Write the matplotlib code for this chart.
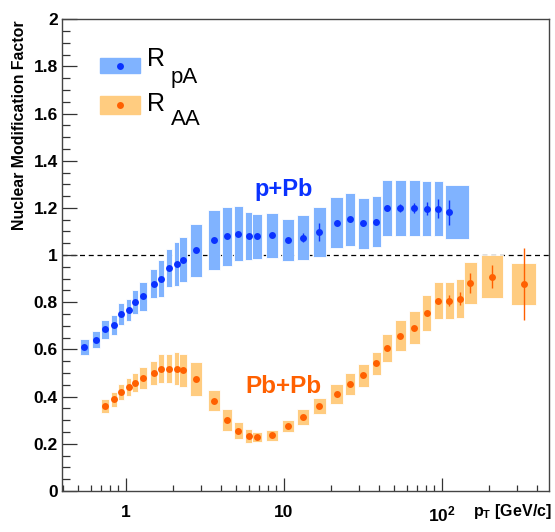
import numpy as np
import matplotlib.pyplot as plt

plt.rcParams['font.family'] = ['Liberation Sans', 'DejaVu Sans']
plt.rcParams['mathtext.fontset'] = 'custom'
plt.rcParams['mathtext.rm'] = 'Liberation Sans'
plt.rcParams['mathtext.bf'] = 'Liberation Sans:bold'

# p+Pb (RpA) data
rpa_pt = [0.547, 0.649, 0.74, 0.843, 0.938, 1.045, 1.14, 1.29, 1.50, 1.68, 1.89,
          2.10, 2.31, 2.80, 3.61, 4.38, 5.16, 6.0, 6.78, 8.43, 10.7, 13.2, 16.8,
          21.6, 26.3, 31.9, 38.6, 44.9, 54.7, 67.1, 80.4, 95.1, 111.7]
rpa_val = [0.611, 0.642, 0.685, 0.704, 0.750, 0.769, 0.800, 0.825, 0.878, 0.900,
           0.946, 0.963, 0.981, 1.020, 1.063, 1.080, 1.090, 1.080, 1.080, 1.084,
           1.063, 1.074, 1.098, 1.137, 1.151, 1.134, 1.142, 1.199, 1.199, 1.199,
           1.196, 1.196, 1.182]
rpa_stat = [0.005] * 21 + [0.02, 0.039, 0.01, 0.01, 0.01, 0.01, 0.012, 0.017,
                           0.02, 0.027, 0.04, 0.053]
rpa_sys = [0.034, 0.037, 0.040, 0.042, 0.045, 0.047, 0.050, 0.060, 0.061, 0.078,
           0.080, 0.094, 0.096, 0.113, 0.127, 0.125, 0.117, 0.102, 0.096, 0.096,
           0.089, 0.095, 0.105, 0.108, 0.112, 0.108, 0.108, 0.118, 0.118, 0.118,
           0.116, 0.117, 0.115]
rpa_last_bin = (105, 150)

# Pb+Pb (RAA) data
raa_pt = [0.74, 0.843, 0.938, 1.045, 1.14, 1.29, 1.50, 1.68, 1.89, 2.10, 2.31,
          2.80, 3.61, 4.38, 5.16, 6.0, 6.78, 8.43, 10.7, 13.2, 16.8, 21.6, 26.3,
          31.9, 38.6, 44.9, 54.7, 67.1, 80.4, 95.1, 111.7, 131, 152, 208, 330]
raa_val = [0.361, 0.388, 0.420, 0.440, 0.459, 0.478, 0.502, 0.519, 0.519, 0.519,
           0.511, 0.476, 0.383, 0.300, 0.256, 0.234, 0.229, 0.236, 0.277, 0.313,
           0.362, 0.411, 0.454, 0.490, 0.541, 0.607, 0.659, 0.693, 0.754, 0.807,
           0.807, 0.815, 0.882, 0.909, 0.878]
raa_stat = [0.005] * 29 + [0.01, 0.023, 0.028, 0.042, 0.047, 0.153]
raa_sys = [0.029, 0.032, 0.035, 0.037, 0.040, 0.046, 0.051, 0.061, 0.061, 0.069,
           0.071, 0.072, 0.044, 0.047, 0.035, 0.029, 0.022, 0.023, 0.025, 0.033,
           0.034, 0.042, 0.045, 0.049, 0.050, 0.058, 0.065, 0.071, 0.075, 0.077,
           0.079, 0.083, 0.088, 0.091, 0.088]

blue_box, blue_pt = '#80b3ff', '#0a32ff'
orange_box, orange_pt = '#ffcc80', '#ff6000'


def box_edges(pt, frac=0.4):
    lp = np.log10(pt)
    gaps = np.diff(lp)
    left = np.r_[gaps[0], gaps]
    right = np.r_[gaps, gaps[-1]]
    half = frac * (left + right) / 2
    return 10 ** (lp - half), 10 ** (lp + half)


fig = plt.figure(figsize=(5.55, 5.32), dpi=100)
ax = fig.add_axes([0.1117, 0.077, 0.8775, 0.887])

for pt, val, stat, sys, cbox, cpt, last in [
        (rpa_pt, rpa_val, rpa_stat, rpa_sys, blue_box, blue_pt, rpa_last_bin),
        (raa_pt, raa_val, raa_stat, raa_sys, orange_box, orange_pt, None)]:
    pt, val, stat, sys = map(np.array, (pt, val, stat, sys))
    lo, hi = box_edges(pt)
    if last is not None:
        lo[-1], hi[-1] = last
    ax.bar(lo, 2 * sys, width=hi - lo, bottom=val - sys, align='edge',
           color=cbox, edgecolor='white', linewidth=0.6, zorder=2)
    ax.errorbar(pt, val, yerr=stat, fmt='o', color=cpt, ms=5, mew=0,
                ecolor=cpt, elinewidth=1, capsize=2.5, capthick=1, zorder=3)

ax.axhline(1, color='black', lw=0.9, ls=(0, (4, 3)), zorder=1)

ax.set_xscale('log')
ax.set_xlim(0.395, 478)
ax.set_ylim(0, 2)
ax.set_xticks([1, 10, 100], ['1', '10', r'$\mathbf{10^{2}}$'])
ax.xaxis.set_minor_locator(plt.matplotlib.ticker.LogLocator(subs=np.arange(2, 10)))
ax.xaxis.set_minor_formatter(plt.NullFormatter())
ax.set_yticks(np.arange(0, 2.01, 0.2), ['0', '0.2', '0.4', '0.6', '0.8', '1', '1.2',
                                         '1.4', '1.6', '1.8', '2'])
ax.yaxis.set_minor_locator(plt.MultipleLocator(0.05))

for s in ax.spines.values():
    s.set_color('#444444')
    s.set_linewidth(1.0)
ax.tick_params(axis='both', which='both', direction='in', color='#333333',
               width=0.9, labelsize=12.5)
ax.tick_params(axis='y', which='major', length=10.8, pad=3)
ax.tick_params(axis='y', which='minor', length=5.5)
ax.tick_params(axis='x', which='major', length=9.6, pad=10)
ax.tick_params(axis='x', which='minor', length=4.5)
for lab in ax.get_xticklabels() + ax.get_yticklabels():
    lab.set_fontweight('bold')

ax.text(-0.078, 0.998, 'Nuclear Modification Factor', transform=ax.transAxes,
        rotation=90, rotation_mode='anchor', ha='right', va='baseline',
        fontsize=11.4, fontweight='bold')
ax.text(1.006, -0.053, r'p$_{\mathbf{T}}$ [GeV/c]', transform=ax.transAxes,
        ha='right', va='baseline', fontsize=11.5, fontweight='bold')

ax.text(10, 1.25, 'p+Pb', color=blue_pt, fontsize=17, fontweight='bold',
        ha='center', va='baseline')
ax.text(9.9, 0.417, 'Pb+Pb', color=orange_pt, fontsize=17.5, fontweight='bold',
        ha='center', va='baseline')

# legend
for (y0, y1, cbox, cpt, sub, yb, ys) in [
        (0.886, 0.917, blue_box, blue_pt, 'pA', 0.900, 0.864),
        (0.800, 0.837, orange_box, orange_pt, 'AA', 0.806, 0.775)]:
    ax.add_patch(plt.Rectangle((0.078, y0), 0.082, y1 - y0, transform=ax.transAxes,
                               color=cbox, zorder=4))
    ax.plot([0.119], [(y0 + y1) / 2], 'o', color=cpt, ms=5, mew=0,
            transform=ax.transAxes, zorder=5)
    ax.text(0.174, yb, 'R', transform=ax.transAxes, fontsize=18, va='baseline')
    ax.text(0.223, ys, sub, transform=ax.transAxes, fontsize=16, va='baseline')

fig.savefig('out.png', dpi=100)
